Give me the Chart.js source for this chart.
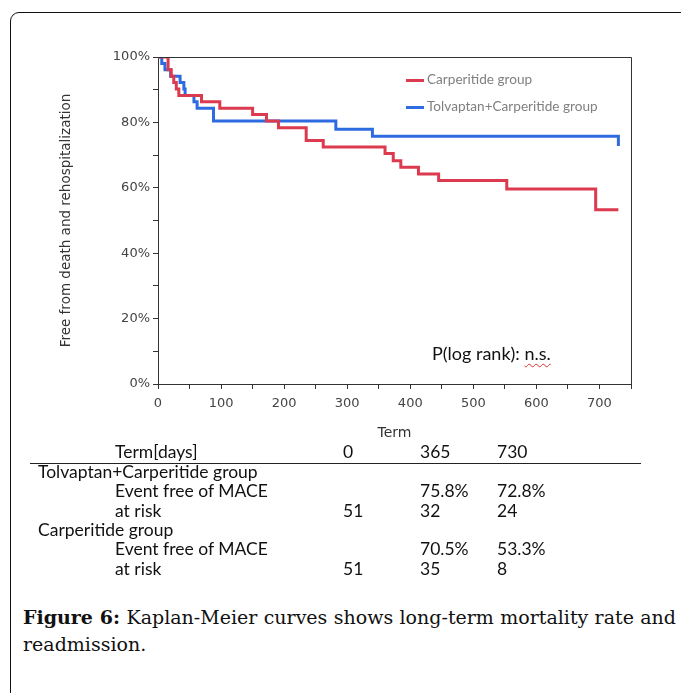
<!DOCTYPE html>
<html>
<head>
<meta charset="utf-8">
<script src="https://cdn.jsdelivr.net/npm/chart.js@4/dist/chart.umd.min.js"></script>
<style>
  html, body { margin:0; padding:0; background:#fff; width:681px; height:693px; overflow:hidden; }
  #frame { position:absolute; left:10px; top:12px; width:720px; height:720px; border:1.5px solid #111; border-radius:9px; box-sizing:border-box; }
  #chartWrap { position:absolute; left:0; top:0; width:681px; height:460px; }
  .leg { position:absolute; font-family:Lato, "Open Sans", sans-serif; font-size:13.6px; color:#808080; white-space:nowrap; }
  .sw { position:absolute; height:3px; width:18px; }
  #pval { position:absolute; font-family:Lato, sans-serif; font-size:18px; color:#111; white-space:nowrap; }
  #pval span { text-decoration: underline wavy #e03030; text-decoration-thickness:1px; text-underline-offset:3px; }
  .t { position:absolute; font-family:Lato, "Open Sans", sans-serif; font-size:17.5px; color:#111; white-space:nowrap; line-height:20px; }
  #rule { position:absolute; left:30px; top:463px; width:611px; height:0; border-top:1.5px solid #222; }
  #caption { position:absolute; left:23px; top:604px; width:653px; font-family:"DejaVu Serif", serif; font-size:19px; line-height:27px; color:#111; text-align:justify; text-align-last:left; }
  #caption b { font-weight:bold; }
</style>
</head>
<body>
<div id="frame"></div>
<div id="chartWrap"><canvas id="c" width="681" height="460"></canvas></div>

<script>
// ---- data ----
const seriesNames = ["Carperitide group", "Tolvaptan+Carperitide group"];
const seriesColors = ["#dc3a4e", "#2f6be0"];
const redDays = [0, 16, 21, 25, 29, 33, 69, 98, 150, 172, 191, 235, 262, 360, 373, 385, 413, 445, 553, 694, 730];
const redSurv = [100, 96.1, 94.1, 92.2, 90.2, 88.2, 86.3, 84.3, 82.4, 80.4, 78.4, 74.5, 72.5, 70.5, 68.3, 66.3, 64.2, 62.2, 59.6, 53.3, 53.3];
const blueDays = [0, 6, 11, 20, 35, 41, 43, 57, 62, 88, 282, 340, 730];
const blueSurv = [100, 98.0, 96.1, 94.1, 92.2, 90.2, 88.2, 86.3, 84.3, 80.4, 77.9, 75.8, 72.8];
const xTickLabels = ["0", "100", "200", "300", "400", "500", "600", "700"];
const yTickLabels = ["0%", "20%", "40%", "60%", "80%", "100%"];
const xTitle = "Term";
const yTitle = "Free from death and rehospitalization";
const pText = "P(log rank): ";
const pValue = "n.s.";
const tableHeader = ["Term[days]", "0", "365", "730"];
const tableGroups = ["Tolvaptan+Carperitide group", "Carperitide group"];
const tableRowNames = ["Event free of MACE", "at risk"];
const tolvEventFree = ["", "75.8%", "72.8%"];
const tolvAtRisk = ["51", "32", "24"];
const carpEventFree = ["", "70.5%", "53.3%"];
const carpAtRisk = ["51", "35", "8"];
const captionBold = "Figure 6:";
const captionText = " Kaplan-Meier curves shows long-term mortality rate and readmission.";

function toPts(xs, ys) { return xs.map((x, i) => ({x: x, y: ys[i]})); }

const boxPlugin = {
  id: 'box',
  afterDraw(chart) {
    const {ctx, chartArea: a} = chart;
    ctx.save();
    ctx.strokeStyle = '#333';
    ctx.lineWidth = 1;
    ctx.beginPath();
    ctx.moveTo(a.left, a.top + 0.5);
    ctx.lineTo(a.right + 0.5, a.top + 0.5);
    ctx.lineTo(a.right + 0.5, a.bottom);
    ctx.stroke();
    ctx.restore();
  }
};

new Chart(document.getElementById('c'), {
  type: 'line',
  data: {
    datasets: [
      { label: seriesNames[0], data: toPts(redDays, redSurv), borderColor: seriesColors[0], backgroundColor: seriesColors[0],
        borderWidth: 3, stepped: 'before', pointRadius: 0, fill: false },
      { label: seriesNames[1], data: toPts(blueDays, blueSurv), borderColor: seriesColors[1], backgroundColor: seriesColors[1],
        borderWidth: 3, stepped: 'before', pointRadius: 0, fill: false }
    ]
  },
  options: {
    responsive: false,
    animation: false,
    devicePixelRatio: 1,
    layout: { padding: { left: 0, right: 50, top: 57, bottom: 16 } },
    plugins: { legend: { display: false }, tooltip: { enabled: false } },
    scales: {
      x: {
        type: 'linear', min: 0, max: 750,
        afterFit: (s) => { s.height = 60; },
        border: { display: true, color: '#333', width: 1 },
        grid: { display: true, drawOnChartArea: false, drawTicks: true, tickLength: 5, tickColor: '#333' },
        ticks: {
          stepSize: 50, autoSkip: false, maxRotation: 0, padding: 7,
          color: '#444', font: { family: 'DejaVu Sans', size: 13 },
          callback: (v) => { const i = xTickLabels.indexOf(String(v)); return i >= 0 ? xTickLabels[i] : ''; }
        },
        title: { display: true, text: xTitle, color: '#333', font: { family: 'DejaVu Sans', size: 14 }, padding: { top: 0, bottom: 2 } }
      },
      y: {
        type: 'linear', min: 0, max: 100,
        afterFit: (s) => { s.width = 158; },
        border: { display: true, color: '#333', width: 1 },
        grid: { display: true, drawOnChartArea: false, drawTicks: true, tickLength: 5, tickColor: '#333' },
        ticks: {
          stepSize: 10, autoSkip: false, padding: 3,
          color: '#444', font: { family: 'DejaVu Sans', size: 13 },
          callback: (v) => { const i = yTickLabels.indexOf(v + '%'); return i >= 0 ? yTickLabels[i] : ''; }
        },
        title: { display: true, text: yTitle, color: '#333', font: { family: 'DejaVu Sans', size: 13.5 }, padding: { top: 58, bottom: 0 } }
      }
    }
  },
  plugins: [boxPlugin]
});

// ---- HTML overlays: legend, p-value, table, caption ----
function add(cls, html, left, top, extra) {
  const d = document.createElement('div');
  d.className = cls; d.innerHTML = html;
  d.style.left = left + 'px'; d.style.top = top + 'px';
  if (extra) Object.assign(d.style, extra);
  document.body.appendChild(d);
  return d;
}
// legend
add('sw', '', 406, 79, { background: seriesColors[0] });
add('leg', seriesNames[0], 427, 71);
add('sw', '', 406, 106, { background: seriesColors[1] });
add('leg', seriesNames[1], 427, 98);
// p value
const pv = add('', pText + '<span>' + pValue + '</span>', 432, 342);
pv.id = 'pval';

// table
const colX = [115, 343, 420, 497];
const rowY = [442, 462, 481, 501, 520, 539, 559];
tableHeader.forEach((t, i) => add('t', t, colX[i], rowY[0]));
const rule = document.createElement('div'); rule.id = 'rule'; document.body.appendChild(rule);
add('t', tableGroups[0], 38, rowY[1]);
add('t', tableRowNames[0], colX[0], rowY[2]);
tolvEventFree.forEach((t, i) => add('t', t, colX[i + 1], rowY[2]));
add('t', tableRowNames[1], colX[0], rowY[3]);
tolvAtRisk.forEach((t, i) => add('t', t, colX[i + 1], rowY[3]));
add('t', tableGroups[1], 38, rowY[4]);
add('t', tableRowNames[0], colX[0], rowY[5]);
carpEventFree.forEach((t, i) => add('t', t, colX[i + 1], rowY[5]));
add('t', tableRowNames[1], colX[0], rowY[6]);
carpAtRisk.forEach((t, i) => add('t', t, colX[i + 1], rowY[6]));

// caption
const cap = document.createElement('div'); cap.id = 'caption';
cap.innerHTML = '<b>' + captionBold + '</b>' + captionText;
document.body.appendChild(cap);
</script>
</body>
</html>
